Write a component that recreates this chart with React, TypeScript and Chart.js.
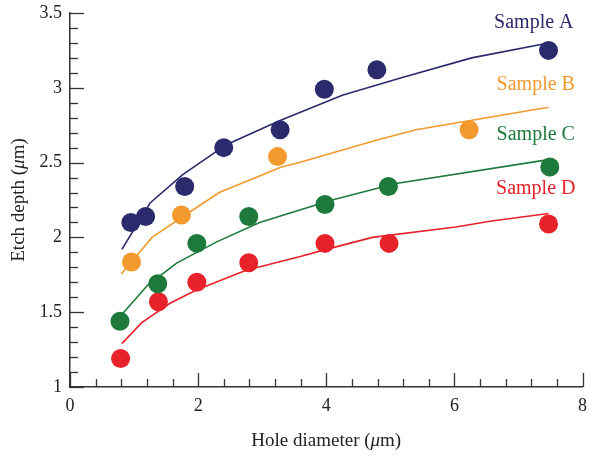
import React, { useEffect, useRef } from "react";
import { Chart, registerables } from "chart.js";

Chart.register(...registerables);

// Measured points
const aX = [0.95, 1.18, 1.79, 2.4, 3.28, 3.97, 4.79, 7.47];
const aY = [2.1, 2.14, 2.34, 2.6, 2.72, 2.99, 3.12, 3.25];
const bX = [0.96, 1.74, 3.24, 6.23];
const bY = [1.836, 2.15, 2.54, 2.72];
const cX = [0.78, 1.37, 1.98, 2.79, 3.98, 4.97, 7.49];
const cY = [1.44, 1.69, 1.96, 2.14, 2.22, 2.34, 2.47];
const dX = [0.79, 1.38, 1.98, 2.79, 3.98, 4.98, 7.47];
const dY = [1.19, 1.57, 1.7, 1.83, 1.96, 1.96, 2.09];

// Model curves
const aLX = [0.81, 1.25, 1.76, 2.44, 3.27, 4.25, 5.2, 6.27, 7.47];
const aLY = [1.92, 2.23, 2.42, 2.62, 2.78, 2.95, 3.07, 3.2, 3.3];
const bLX = [0.8, 1.28, 1.87, 2.33, 3.3, 3.58, 4.78, 5.4, 7.47];
const bLY = [1.755, 2.0, 2.17, 2.3, 2.47, 2.5, 2.65, 2.72, 2.87];
const cLX = [0.82, 1.21, 1.67, 2.29, 2.96, 4.09, 5.09, 7.47];
const cLY = [1.49, 1.68, 1.83, 1.97, 2.1, 2.25, 2.36, 2.52];
const dLX = [0.81, 1.12, 1.56, 1.98, 2.75, 3.58, 4.0, 4.72, 6.02, 6.58, 7.47];
const dLY = [1.29, 1.43, 1.56, 1.65, 1.78, 1.87, 1.92, 2.0, 2.07, 2.11, 2.16];

const seriesNames = ["Sample A", "Sample B", "Sample C", "Sample D"];
const seriesColors = ["#2a2a6c", "#f29a2e", "#1d7a3c", "#e8222a"];
const labelX = [7.24, 7.27, 7.27, 7.27];
const labelY = [3.433, 3.02, 2.684, 2.324];

const xTicks = [0, 2, 4, 6, 8];
const yTicks = [1, 1.5, 2, 2.5, 3, 3.5];

const FONT = "'Liberation Serif', 'DejaVu Serif', serif";
const AXIS = "#333333";

const zip = (xs: number[], ys: number[]) => xs.map((x, i) => ({ x, y: ys[i] }));

const decorPlugin = {
  id: "decor",
  afterDraw(chart: any) {
    const ctx = chart.ctx;
    const xs = chart.scales.x;
    const ys = chart.scales.y;
    const area = chart.chartArea;
    ctx.save();
    ctx.strokeStyle = AXIS;
    ctx.lineWidth = 1.3;
    for (let i = 0; i <= 20; i++) {
      const v = i * 0.4;
      const px = Math.round(xs.getPixelForValue(v)) + 0.5;
      const major = Math.abs(v / 2 - Math.round(v / 2)) < 1e-6;
      const len = major ? 14 : 8;
      ctx.beginPath();
      ctx.moveTo(px, area.bottom);
      ctx.lineTo(px, area.bottom - len);
      ctx.stroke();
    }
    for (let i = 0; i <= 25; i++) {
      const v = 1 + i * 0.1;
      const py = Math.round(ys.getPixelForValue(v)) + 0.5;
      const major = i % 5 === 0;
      const len = major ? 14 : 8;
      ctx.beginPath();
      ctx.moveTo(area.left, py);
      ctx.lineTo(area.left + len, py);
      ctx.stroke();
    }
    ctx.font = `20px ${FONT}`;
    ctx.textAlign = "center";
    ctx.textBaseline = "middle";
    seriesNames.forEach((n, i) => {
      ctx.fillStyle = seriesColors[i];
      ctx.fillText(n, xs.getPixelForValue(labelX[i]), ys.getPixelForValue(labelY[i]));
    });
    const drawMixed = (parts: [string, boolean][], cx: number, cy: number) => {
      let total = 0;
      parts.forEach(([t, it]) => {
        ctx.font = `${it ? "italic " : ""}19px ${FONT}`;
        total += ctx.measureText(t).width;
      });
      let x = cx - total / 2;
      ctx.textAlign = "left";
      ctx.textBaseline = "middle";
      parts.forEach(([t, it]) => {
        ctx.font = `${it ? "italic " : ""}19px ${FONT}`;
        ctx.fillText(t, x, cy);
        x += ctx.measureText(t).width;
      });
    };
    ctx.fillStyle = "#222";
    drawMixed(
      [["Hole diameter (", false], ["μ", true], ["m)", false]],
      (area.left + area.right) / 2,
      441
    );
    ctx.save();
    ctx.translate(19, (area.top + area.bottom) / 2);
    ctx.rotate(-Math.PI / 2);
    drawMixed([["Etch depth (", false], ["μ", true], ["m)", false]], 0, 0);
    ctx.restore();
    ctx.restore();
  },
};

export default function App() {
  const ref = useRef<HTMLCanvasElement>(null);
  useEffect(() => {
    document.body.style.margin = "0";
    const scatter = (xs: number[], ys: number[], i: number) => ({
      type: "scatter" as const,
      data: zip(xs, ys),
      backgroundColor: seriesColors[i],
      borderColor: seriesColors[i],
      pointRadius: 9.5,
      pointBorderWidth: 0,
      showLine: false,
      order: 0,
    });
    const line = (xs: number[], ys: number[], i: number) => ({
      type: "line" as const,
      data: zip(xs, ys),
      borderColor: seriesColors[i],
      borderWidth: 1.6,
      pointRadius: 0,
      fill: false,
      tension: 0,
      order: 1,
    });
    const chart = new Chart(ref.current!, {
      type: "scatter",
      data: {
        datasets: [
          line(aLX, aLY, 0),
          line(bLX, bLY, 1),
          line(cLX, cLY, 2),
          line(dLX, dLY, 3),
          scatter(aX, aY, 0),
          scatter(bX, bY, 1),
          scatter(cX, cY, 2),
          scatter(dX, dY, 3),
        ] as any,
      },
      options: {
        animation: false,
        responsive: false,
        layout: { padding: { left: 8, right: 8, top: 13, bottom: 0 } },
        plugins: { legend: { display: false }, tooltip: { enabled: false } },
        scales: {
          x: {
            type: "linear",
            min: 0,
            max: 8,
            afterFit: (s: any) => {
              s.height = 74;
              s.paddingLeft = 0;
              s.paddingRight = 0;
            },
            afterBuildTicks: (s: any) => {
              s.ticks = xTicks.map((v) => ({ value: v }));
            },
            grid: { display: false, drawTicks: false },
            border: { display: true, color: AXIS, width: 1.5 },
            ticks: {
              padding: 8,
              color: "#222",
              font: { family: FONT, size: 18 },
              callback: (v: any) => String(v),
            },
          },
          y: {
            type: "linear",
            min: 1,
            max: 3.5,
            afterFit: (s: any) => {
              s.width = 62;
              s.paddingTop = 0;
              s.paddingBottom = 0;
            },
            afterBuildTicks: (s: any) => {
              s.ticks = yTicks.map((v) => ({ value: v }));
            },
            grid: { display: false, drawTicks: false },
            border: { display: true, color: AXIS, width: 1.5 },
            ticks: {
              padding: 8,
              color: "#222",
              font: { family: FONT, size: 18 },
              callback: (v: any) => String(v),
            },
          },
        },
      },
      plugins: [decorPlugin],
    });
    return () => chart.destroy();
  }, []);
  return <canvas ref={ref} width={592} height={461} style={{ display: "block" }} />;
}
